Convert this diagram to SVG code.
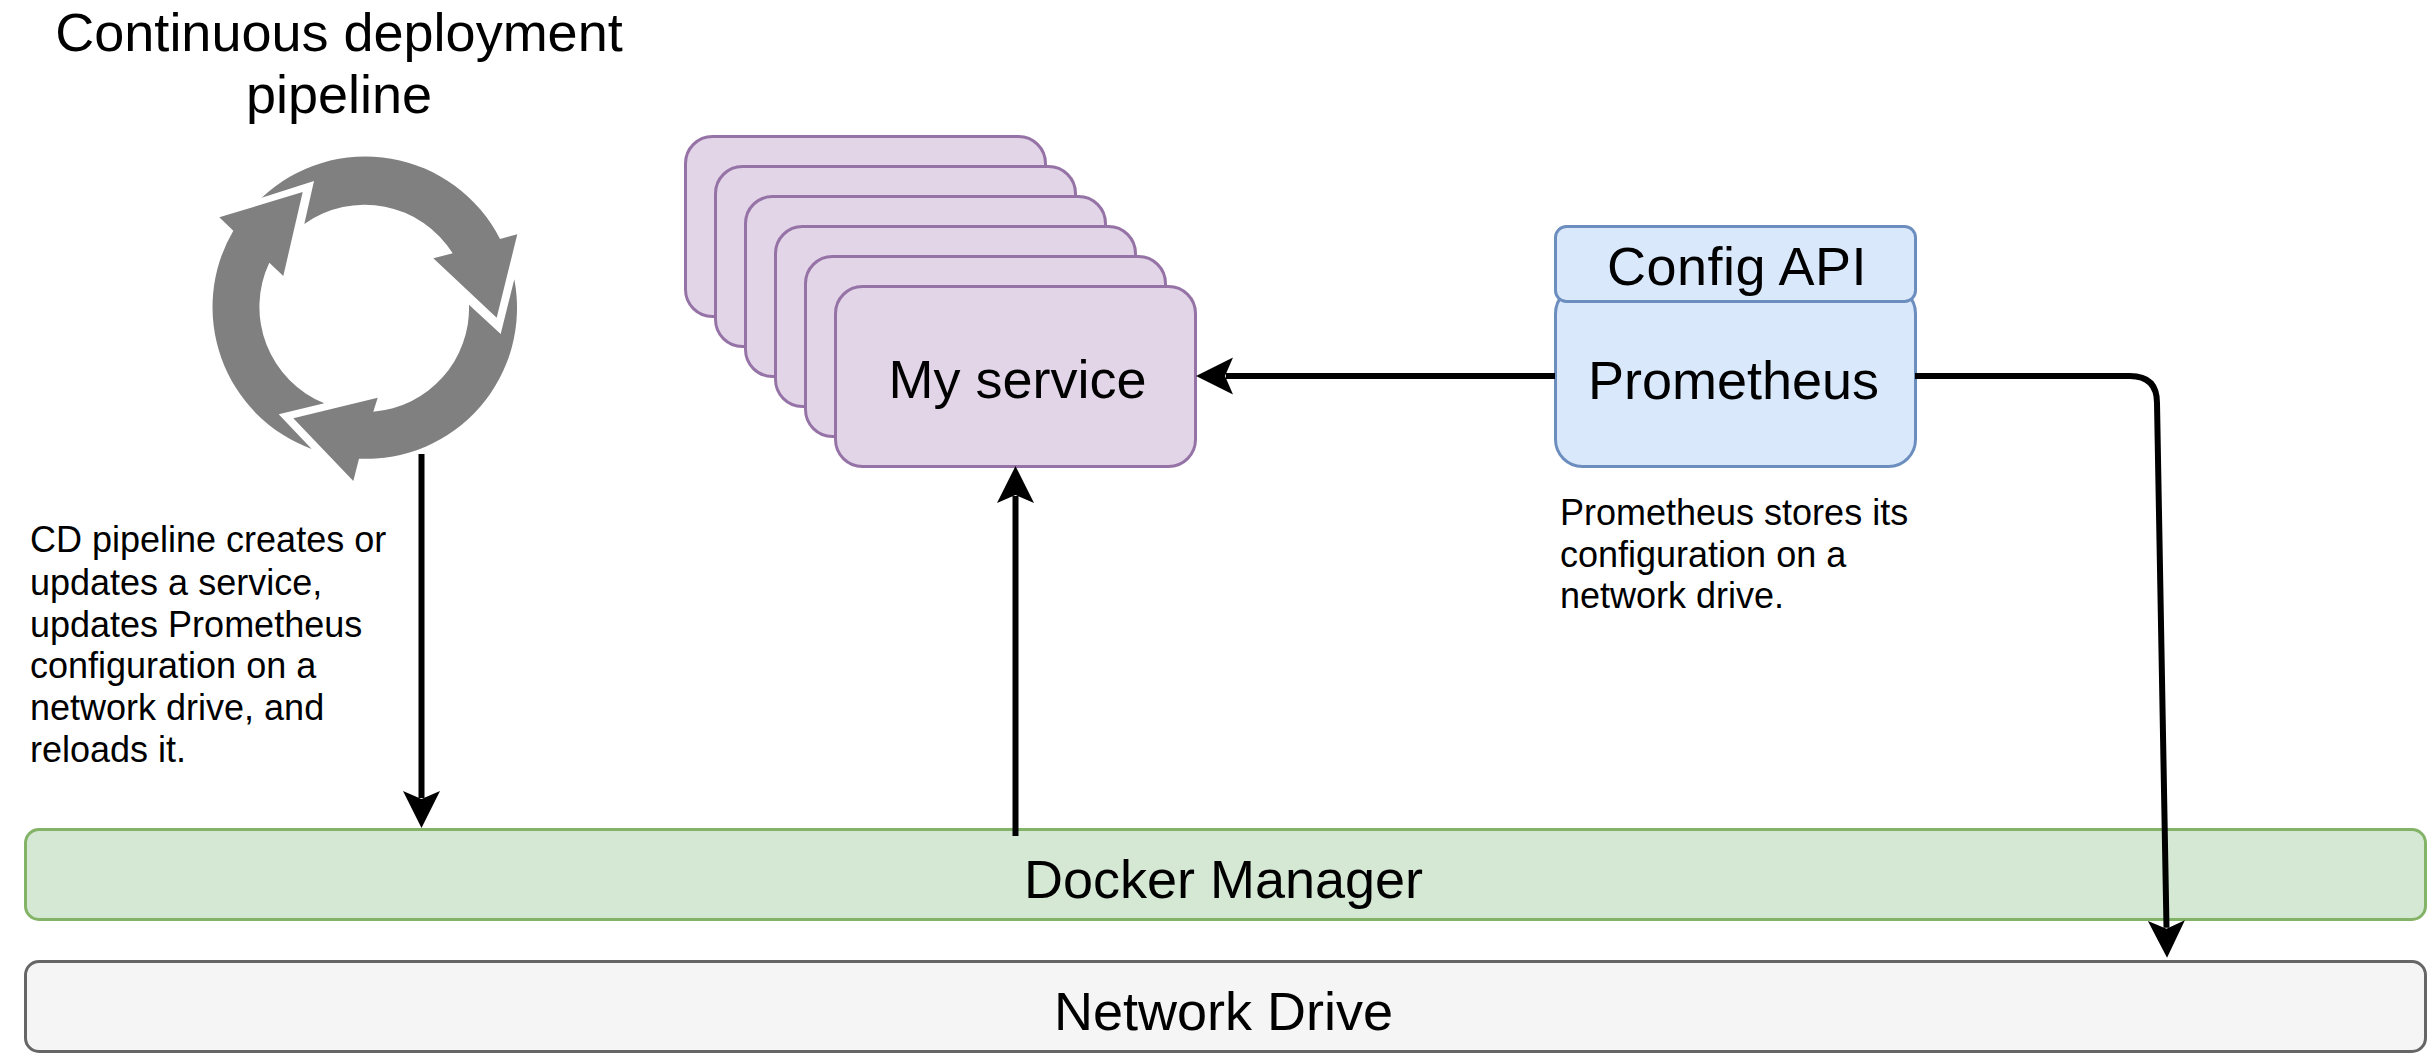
<svg xmlns="http://www.w3.org/2000/svg" width="2427" height="1053" viewBox="0 0 2427 1053">
<style>
text{font-family:"Liberation Sans",Arial,sans-serif;fill:#000}
.big{font-size:54px;text-anchor:middle}
.small{font-size:36px}
.svc{fill:#e1d5e7;stroke:#9673a6;stroke-width:3}
.blue{fill:#dae8fc;stroke:#6c8ebf;stroke-width:3}
.cycle{fill:#808080}
.conn{fill:none;stroke:#000;stroke-width:6}
</style>
<defs>
<marker id="arrow" markerUnits="userSpaceOnUse" markerWidth="40" markerHeight="40" refX="7" refY="18.5" orient="auto" overflow="visible">
<path d="M37 18.5L0 0L8 18.5L0 37Z" fill="#000"/>
</marker>
</defs>
<rect width="2427" height="1053" fill="#fff"/>
<g id="title">
<text class="big" x="339" y="51">Continuous deployment</text>
<text class="big" x="339" y="113">pipeline</text>
</g>
<g id="cycle">
<path class="cycle" d="M261.7 197.7A151 151 0 0 1 500 239L517.3 234.3L496.7 317.7L433.3 258.3L452.7 253.3A104 104 0 0 0 304.3 224L314 181Z"/>
<path class="cycle" d="M514.3 279.3A151 151 0 0 1 359 458.7L353.3 481L293.3 418.3L377.7 397.7L373.3 411.7A104 104 0 0 0 469 304.7L500.7 334Z"/>
<path class="cycle" d="M311.7 449A151 151 0 0 1 233.3 230.7L219.3 217.3L302.7 192L283.3 276L269.3 262.7A104 104 0 0 0 324.3 403.3L278.7 414.3Z"/>
</g>
<g id="my-service">
<rect class="svc" x="685.5" y="136.5" width="360" height="180" rx="27"/>
<rect class="svc" x="715.5" y="166.5" width="360" height="180" rx="27"/>
<rect class="svc" x="745.5" y="196.5" width="360" height="180" rx="27"/>
<rect class="svc" x="775.5" y="226.5" width="360" height="180" rx="27"/>
<rect class="svc" x="805.5" y="256.5" width="360" height="180" rx="27"/>
<rect class="svc" x="835.5" y="286.5" width="360" height="180" rx="27"/>
<text class="big" x="1017.5" y="398">My service</text>
</g>
<g id="prometheus">
<rect class="blue" x="1555.5" y="286.5" width="360" height="180" rx="27"/>
<text class="big" x="1733.5" y="399">Prometheus</text>
</g>
<g id="config-api">
<rect class="blue" x="1555.5" y="226.5" width="360" height="75" rx="11"/>
<text class="big" x="1737" y="285" letter-spacing="0.5">Config API</text>
</g>
<g id="docker-manager">
<rect x="25.5" y="829.5" width="2400" height="90" rx="13.5" fill="#d5e8d4" stroke="#82b366" stroke-width="3"/>
<text class="big" x="1223.5" y="898">Docker Manager</text>
</g>
<g id="network-drive">
<rect x="25.5" y="961.5" width="2400" height="90" rx="13.5" fill="#f5f5f5" stroke="#666" stroke-width="3"/>
<text class="big" x="1223.5" y="1030">Network Drive</text>
</g>
<g id="note-cd" class="small">
<text x="30" y="552">CD pipeline creates or</text>
<text x="30" y="594.5">updates a service,</text>
<text x="30" y="636.5">updates Prometheus</text>
<text x="30" y="678">configuration on a</text>
<text x="30" y="720">network drive, and</text>
<text x="30" y="762">reloads it.</text>
</g>
<g id="note-prometheus" class="small">
<text x="1560" y="525">Prometheus stores its</text>
<text x="1560" y="567">configuration on a</text>
<text x="1560" y="608">network drive.</text>
</g>
<g id="connectors">
<path class="conn" marker-end="url(#arrow)" d="M421.5 454V798"/>
<path class="conn" marker-end="url(#arrow)" d="M1015.5 836V496"/>
<path class="conn" marker-end="url(#arrow)" d="M1555 376H1226"/>
<path class="conn" marker-end="url(#arrow)" d="M1915 376H2130Q2157 376 2157 403L2166.5 927.7"/>
</g>
</svg>
